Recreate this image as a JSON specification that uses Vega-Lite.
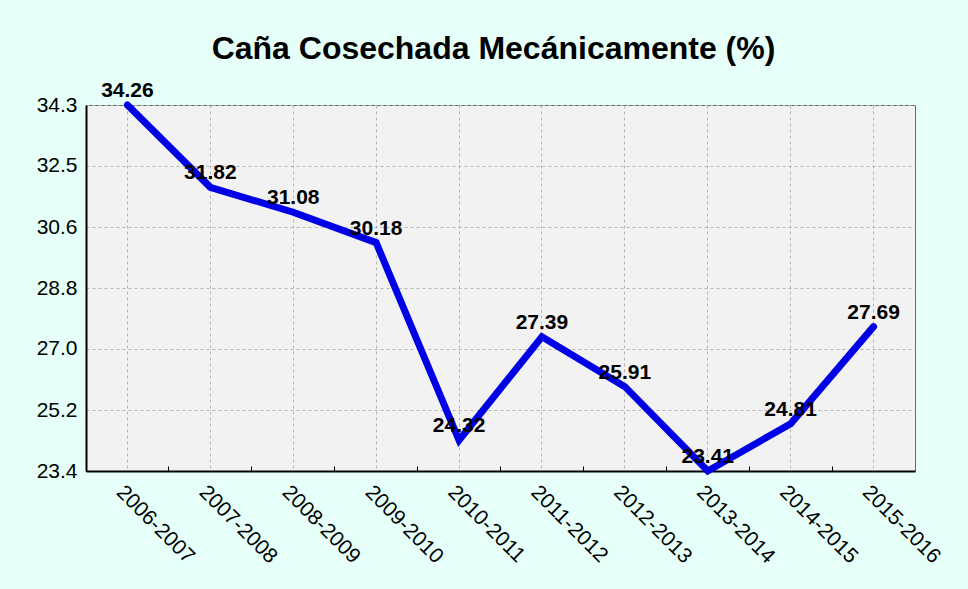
{
  "$schema": "https://vega.github.io/schema/vega-lite/v6.json",
  "width": 829,
  "height": 366,
  "autosize": {"type": "none"},
  "padding": {"left": 86, "top": 105, "right": 53, "bottom": 118},
  "background": "#e6fff9",
  "config": {
    "font": "Liberation Sans",
    "view": {"fill": "#f2f2f2", "stroke": "#666666", "strokeWidth": 1}
  },
  "title": {
    "text": "Caña Cosechada Mecánicamente (%)",
    "font": "Liberation Sans",
    "fontSize": 32,
    "fontWeight": "bold",
    "color": "#000000",
    "offset": 14,
    "dx": -7
  },
  "resolve": {"axis": {"x": "independent", "y": "independent"}},
  "data": {
    "values": [
      {"zafra": "2006-2007", "pct": 34.26},
      {"zafra": "2007-2008", "pct": 31.82},
      {"zafra": "2008-2009", "pct": 31.08},
      {"zafra": "2009-2010", "pct": 30.18},
      {"zafra": "2010-2011", "pct": 24.32},
      {"zafra": "2011-2012", "pct": 27.39},
      {"zafra": "2012-2013", "pct": 25.91},
      {"zafra": "2013-2014", "pct": 23.41},
      {"zafra": "2014-2015", "pct": 24.81},
      {"zafra": "2015-2016", "pct": 27.69}
    ]
  },
  "layer": [
    {
      "mark": {"type": "point", "opacity": 0},
      "encoding": {
        "x": {
          "field": "zafra",
          "type": "nominal",
          "sort": null,
          "scale": {"type": "band", "paddingInner": 0, "paddingOuter": 0},
          "axis": {
            "orient": "bottom",
            "title": null,
            "bandPosition": 0.5,
            "ticks": false,
            "domain": false,
            "labelAngle": 45,
            "labelAlign": "left",
            "labelBaseline": "top",
            "labelFontSize": 21,
            "labelColor": "#000000",
            "labelPadding": 10,
            "gridColor": "#b4b4b4",
            "gridDash": [3, 3],
            "gridWidth": 1,
            "grid": true
          }
        },
        "y": {
          "field": "pct",
          "type": "quantitative",
          "scale": {"domain": [23.41, 34.26], "nice": false, "zero": false},
          "axis": {
            "title": null,
            "values": [23.41, 25.218, 27.027, 28.835, 30.643, 32.452, 34.26],
            "format": ".1f",
            "ticks": false,
            "labelFontSize": 21,
            "labelColor": "#000000",
            "labelPadding": 9,
            "domainColor": "#000000",
            "domainWidth": 2,
            "gridColor": "#b4b4b4",
            "gridDash": [3, 3],
            "gridWidth": 1
          }
        }
      }
    },
    {
      "mark": {"type": "line", "color": "#0000e6", "strokeWidth": 7, "strokeCap": "round", "strokeJoin": "miter"},
      "encoding": {
        "x": {
          "field": "zafra",
          "type": "nominal",
          "sort": null,
          "scale": {"type": "band", "paddingInner": 0, "paddingOuter": 0},
          "axis": {
            "orient": "bottom",
            "title": null,
            "bandPosition": 0,
            "grid": false,
            "labels": false,
            "ticks": true,
            "tickSize": -5,
            "tickColor": "#000000",
            "tickWidth": 1,
            "domain": true,
            "domainColor": "#000000",
            "domainWidth": 2
          }
        },
        "y": {
          "field": "pct",
          "type": "quantitative",
          "scale": {"domain": [23.41, 34.26], "nice": false, "zero": false},
          "axis": null
        }
      }
    },
    {
      "mark": {"type": "text", "font": "Liberation Sans", "fontSize": 21, "fontWeight": "bold", "color": "#000000", "baseline": "alphabetic", "dy": -8},
      "encoding": {
        "x": {
          "field": "zafra",
          "type": "nominal",
          "sort": null,
          "scale": {"type": "band", "paddingInner": 0, "paddingOuter": 0},
          "axis": null
        },
        "y": {
          "field": "pct",
          "type": "quantitative",
          "scale": {"domain": [23.41, 34.26], "nice": false, "zero": false},
          "axis": null
        },
        "text": {"field": "pct", "type": "quantitative", "format": ".2f"}
      }
    }
  ]
}
